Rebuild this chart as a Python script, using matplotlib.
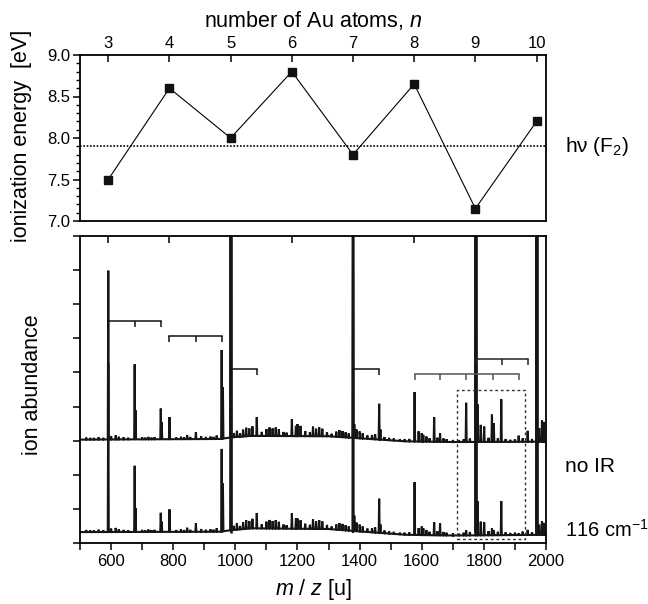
import numpy as np
import matplotlib
matplotlib.use("Agg")
import matplotlib.pyplot as plt
from matplotlib.ticker import FixedLocator, MultipleLocator, NullFormatter

plt.rcParams['font.family'] = ['Liberation Sans', 'DejaVu Sans']
plt.rcParams['mathtext.fontset'] = 'custom'
plt.rcParams['mathtext.rm'] = 'Liberation Sans'
plt.rcParams['mathtext.it'] = 'Liberation Sans:italic'

# ---- top panel: ionization energies of Au_n ----
n_atoms = [3, 4, 5, 6, 7, 8, 9, 10]
ie_ev = [7.5, 8.6, 8.0, 8.8, 7.8, 8.65, 7.15, 8.2]
hv_f2 = 7.9
au_mass = 196.97

# ---- bottom panel: mass spectra ----
# baseline knots (m/z, level) for the "no IR" trace; the IR trace sits lower
base_mz = [500, 950, 990, 1050, 1300, 1400, 1550, 1700, 2000]
base_noir = [3.03, 3.05, 3.1, 3.14, 3.13, 3.07, 2.98, 2.96, 2.97]
base_ir = [0.32, 0.33, 0.38, 0.43, 0.41, 0.34, 0.24, 0.22, 0.24]

# peaks: m/z and height above baseline
peak_mz = [591, 600, 676, 679, 760, 763, 788, 873, 956, 960, 1069, 1182, 1200, 1210,
           1383, 1463, 1467, 1577, 1590, 1600, 1640, 1659, 1743, 1780, 1790, 1801,
           1826, 1832, 1856, 1912, 1941, 1978, 1987, 1993]
peak_noir = [4.95, 0.1, 2.2, 0.85, 0.9, 0.5, 0.65, 0.2, 2.6, 1.5, 0.55, 0.5, 0.35, 0.3,
             0.4, 1.05, 0.3, 1.45, 0.3, 0.25, 0.72, 0.25, 1.15, 1.1, 0.5, 0.45,
             0.8, 0.55, 1.25, 0.18, 0.32, 0.4, 0.62, 0.58]
peak_ir = [4.95, 0.1, 1.94, 0.7, 0.56, 0.3, 0.66, 0.25, 2.42, 1.4, 0.45, 0.45, 0.3, 0.25,
           0.45, 1.0, 0.25, 1.55, 0.2, 0.25, 0.38, 0.35, 0.15, 1.0, 0.4, 0.38,
           0.2, 0.15, 1.0, 0.05, 0.15, 0.3, 0.4, 0.35]

# saturated peaks (off scale)
big_mz = [985, 1379, 1774, 1970]
big_h = [12, 12, 12, 12]

# small noise spikes seen on both traces
grass_mz = [520, 533, 545, 560, 575, 615, 625, 640, 655, 700, 710, 720, 730, 740, 810, 825,
            835, 845, 855, 890, 905, 920, 930, 940, 995, 1005, 1015, 1025, 1035, 1045, 1055,
            1085, 1100, 1110, 1120, 1130, 1140, 1155, 1165, 1195, 1225, 1240, 1250, 1260,
            1270, 1280, 1295, 1310, 1325, 1335, 1345, 1355, 1365, 1390, 1400, 1410, 1425,
            1440, 1450, 1480, 1495, 1510, 1530, 1545, 1560, 1605, 1615, 1625, 1650, 1670,
            1680, 1700, 1720, 1735, 1755, 1815, 1845, 1870, 1885, 1900, 1925, 1955]
grass_h = [0.06, 0.05, 0.05, 0.07, 0.05, 0.12, 0.08, 0.06, 0.05, 0.06, 0.05, 0.07, 0.05, 0.06,
           0.05, 0.07, 0.05, 0.12, 0.06, 0.08, 0.06, 0.07, 0.06, 0.1, 0.12, 0.18, 0.1, 0.2,
           0.25, 0.22, 0.28, 0.12, 0.2, 0.25, 0.22, 0.25, 0.2, 0.12, 0.1, 0.3, 0.15, 0.12,
           0.28, 0.22, 0.26, 0.22, 0.12, 0.08, 0.15, 0.2, 0.18, 0.15, 0.12, 0.25, 0.2,
           0.15, 0.1, 0.12, 0.15, 0.08, 0.07, 0.06, 0.05, 0.06, 0.07, 0.2, 0.15, 0.1,
           0.12, 0.1, 0.08, 0.06, 0.05, 0.08, 0.1, 0.12, 0.1, 0.08, 0.06, 0.07, 0.1, 0.08]

# assignment combs: member m/z and level
combs_mz = [[591, 676, 760], [788, 873, 958], [985, 1069], [1379, 1463],
            [1577, 1660, 1743, 1828, 1912], [1774, 1857, 1941]]
combs_lvl = [6.51, 6.07, 5.09, 5.09, 4.96, 5.39]
combs_col = ['#111111', '#111111', '#111111', '#111111', '#555555', '#222222']

box_mz = [1715, 1931]
box_lvl = [0.11, 4.5]


def trace(base_lvl, heights):
    mz = list(peak_mz) + list(big_mz) + list(grass_mz)
    hh = list(heights) + list(big_h) + list(grass_h)
    pts = [(m, l) for m, l in zip(base_mz, base_lvl)]
    for m, h in zip(mz, hh):
        for dx, f in ((-1.6, 0.0), (0.0, 1.0), (1.6, 0.0)):
            pts.append((m + dx, np.interp(m + dx, base_mz, base_lvl) + f * h))
    pts.sort()
    return np.array(pts).T


fig = plt.figure(figsize=(6.48, 6.04), dpi=100)
W, H = 648, 604
x0, x1 = 80, 546
ax_top = fig.add_axes([x0 / W, 1 - 221 / H, (x1 - x0) / W, (221 - 55) / H])
ax = fig.add_axes([x0 / W, 1 - 543 / H, (x1 - x0) / W, (543 - 236) / H])

# top panel
xs = [n * au_mass for n in n_atoms]
ax_top.plot(xs, ie_ev, color='black', lw=0.8, marker='s', ms=5.2, mfc='#111111', mec='#111111')
ax_top.axhline(hv_f2, color='black', lw=1.2, ls=(0, (1, 1)))
ax_top.set_xlim(500, 2000)
ax_top.set_ylim(7.0, 9.0)
ax_top.yaxis.set_major_locator(MultipleLocator(0.5))
ax_top.yaxis.set_minor_locator(MultipleLocator(0.1))
ax_top.yaxis.set_major_formatter(plt.FormatStrFormatter('%.1f'))
ax_top.xaxis.set_major_locator(FixedLocator(xs))
ax_top.set_xticklabels([str(n) for n in n_atoms])
ax_top.xaxis.set_ticks_position('top')
ax_top.tick_params(axis='x', which='major', direction='in', length=5, width=1.1,
                   labelsize=12, pad=3)
ax_top.tick_params(axis='y', which='major', direction='out', length=5, width=1.1,
                   labelsize=12, pad=2)
ax_top.tick_params(axis='y', which='minor', direction='out', length=3, width=1.0)
ax_top.text(1.041, hv_f2, 'h\u03bd (F$_2$)', transform=ax_top.get_yaxis_transform(),
            fontsize=15, va='center', ha='left')

# bottom panel
mx, my = trace(base_ir, peak_ir)
ax.plot(mx, my, color='#151515', lw=1.5, solid_joinstyle='miter')
mx, my = trace(base_noir, peak_noir)
ax.plot(mx, my, color='#151515', lw=1.5, solid_joinstyle='miter')
ax.vlines(big_mz, 0.3, 9.2, color='#151515', lw=[1.9, 1.7, 2.6, 2.6])

for mzs, lvl, col in zip(combs_mz, combs_lvl, combs_col):
    ax.plot([mzs[0], mzs[-1]], [lvl, lvl], color=col, lw=1.1)
    ax.vlines(mzs, lvl - 0.17, lvl, color=col, lw=1.1)

ax.plot([box_mz[0], box_mz[1], box_mz[1], box_mz[0], box_mz[0]],
        [box_lvl[0], box_lvl[0], box_lvl[1], box_lvl[1], box_lvl[0]],
        color='#333333', lw=1.0, ls=(0, (2, 2)))

ax.set_xlim(500, 2000)
ax.set_ylim(0, 9)
ax.xaxis.set_major_locator(MultipleLocator(200))
ax.xaxis.set_minor_locator(MultipleLocator(100))
ax.yaxis.set_major_locator(MultipleLocator(1))
ax.yaxis.set_major_formatter(NullFormatter())
ax.tick_params(axis='x', which='major', direction='out', length=5, width=1.1, labelsize=12, pad=3)
ax.tick_params(axis='x', which='minor', direction='out', length=5, width=1.1)
ax.tick_params(axis='y', which='major', direction='out', length=5, width=1.1)

# Au_n positions on the top edge of the spectrum panel
sec = ax.secondary_xaxis('top')
sec.set_xticks(xs)
sec.set_xticklabels([])
sec.tick_params(direction='in', length=5, width=1.1)
sec.spines['top'].set_visible(False)

for a in (ax_top, ax):
    for s in a.spines.values():
        s.set_linewidth(1.3)

ax.text(1.041, 2.23, 'no IR', transform=ax.get_yaxis_transform(), fontsize=15, va='center')
ax.text(1.041, 0.4, '116 cm$^{-1}$', transform=ax.get_yaxis_transform(), fontsize=14.5,
        va='center')

fig.text(313 / W, 1 - 20 / H, 'number of Au atoms, $n$', fontsize=15.5, ha='center', va='center')
fig.text(22 / W, 1 - 136 / H, 'ionization energy  [eV]', fontsize=15.5, rotation=90,
         ha='center', va='center')
fig.text(33 / W, 1 - 385 / H, 'ion abundance', fontsize=15.5, rotation=90,
         ha='center', va='center')
fig.text(313 / W, 1 - 590 / H, '$m$ / $z$ [u]', fontsize=15.5, ha='center', va='center')

fig.savefig('out.png', dpi=100)
